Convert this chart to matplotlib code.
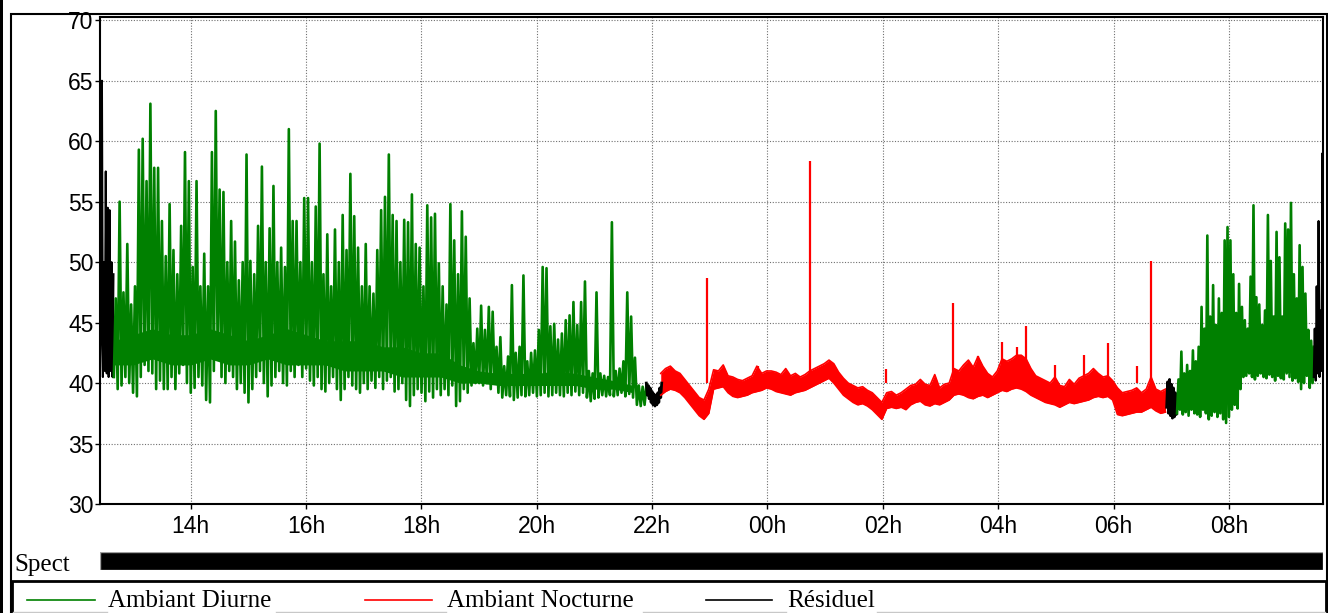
import numpy as np
import matplotlib.pyplot as plt
from matplotlib.patches import Rectangle
from matplotlib.lines import Line2D

W, H = 1328, 613

# axe des temps en heures depuis minuit du 1er jour (24 = 00h le lendemain)
T_MIN, T_MAX = 12.43, 33.63
TICK_HOURS = [14, 16, 18, 20, 22, 24, 26, 28, 30, 32]
TICK_LABELS = ['14h', '16h', '18h', '20h', '22h', '00h', '02h', '04h', '06h', '08h']
Y_TICKS = [30, 35, 40, 45, 50, 55, 60, 65, 70]

GREEN = '#008000'
RED = '#ff0000'

# Résiduel, pas de 1 min
RES1_START = 12.43
RES1 = [41.0, 44.0, 65.0, 40.5, 50.0, 41.0, 57.5, 40.8, 54.5, 40.5, 54.3, 41.0,
        50.0, 40.5, 49.0]
RES2_START = 21.9
RES2 = [40.0, 39.0, 39.8, 38.7, 39.6, 38.4, 39.3, 38.2, 39.1, 38.1, 39.0, 38.2,
        39.2, 38.4, 39.6, 38.8, 40.0]
RES3_START = 30.92
RES3 = [38.0, 40.1, 37.5, 40.3, 37.3, 39.9, 37.1, 39.6, 37.2, 39.2, 37.4, 39.0]
RES4_START = 33.47
RES4 = [40.5, 44.5, 40.2, 48.0, 40.8, 53.4, 40.5, 46.0, 41.0, 59.0, 40.3]

# Ambiant diurne (après-midi), pas de 4 min : min et max de chaque pas
DAY1_START = 12.67
DAY1_STEP = 4
DAY1_HI = [47.0, 55.0, 47.5, 51.5, 46.5, 48.0, 59.3, 60.2, 56.7, 63.1,
           57.8, 57.8, 53.4, 50.5, 54.8, 51.0, 49.0, 53.0, 59.1, 56.7,
           49.6, 56.7, 48.0, 50.7, 48.0, 59.1, 62.5, 56.0, 55.8, 50.0,
           53.4, 51.7, 48.5, 50.0, 58.9, 50.1, 49.0, 53.0, 57.9, 50.0,
           52.8, 56.3, 50.0, 51.2, 49.6, 61.0, 53.4, 53.4, 50.0, 55.3,
           55.3, 50.0, 54.6, 59.8, 49.0, 52.3, 48.0, 52.7, 50.0, 53.9,
           51.0, 57.3, 53.8, 51.2, 48.0, 51.5, 48.0, 47.4, 51.0, 54.3,
           55.4, 58.9, 53.9, 53.4, 50.0, 53.5,
           53.3, 55.6, 51.5, 51.2, 48.0, 54.7, 53.7, 54.0, 49.9, 48.0,
           46.5, 54.8, 51.8, 49.0, 54.2, 52.1, 47.0, 43.3, 44.5, 46.4,
           44.4, 46.3, 45.9, 43.0, 43.8, 41.4, 42.2, 48.1, 42.5, 43.0,
           48.9, 41.8, 42.5, 42.7, 44.4, 49.6, 49.5, 44.7, 44.9, 43.6,
           44.1, 45.2, 45.6, 46.7, 44.8, 46.7, 48.4, 41.0, 40.8, 47.5,
           40.8, 40.6, 40.5, 53.3, 41.0, 41.2, 41.8, 47.5, 45.5, 42.1,
           39.8, 39.7, 39.9]
DAY1_LO = [40.5, 39.5, 39.8, 40.5, 40.0, 39.2, 38.9, 40.5, 41.5, 41.0,
           40.8, 39.5, 40.2, 39.5, 39.5, 40.5, 39.5, 40.8, 41.5, 40.0,
           39.2, 39.6, 40.5, 39.8, 38.6, 38.4, 41.0, 42.0, 40.5, 40.0,
           41.0, 40.5, 39.5, 40.0, 39.2, 38.4, 39.5, 40.5, 41.0, 40.0,
           38.9, 39.8, 40.5, 41.0, 40.0, 39.8, 41.0, 40.5, 41.5, 40.5,
           41.2, 40.2, 39.8, 40.5, 39.5, 39.3, 40.0, 40.5, 39.5, 38.6,
           39.5, 40.5, 39.8, 39.5, 39.2, 40.0, 39.5, 40.2, 39.6, 40.5,
           39.5, 40.2, 40.5, 39.3, 39.5, 40.0,
           38.6, 38.1, 39.0, 39.5, 39.2, 38.5, 39.3, 38.8, 39.5, 39.0,
           39.5, 39.0, 39.8, 38.1, 38.5, 39.5, 39.2, 39.8, 40.0, 40.0,
           39.8, 40.0, 39.5, 40.0, 39.2, 38.8, 39.0, 38.9, 38.6, 38.8,
           39.0, 38.9, 39.0, 39.2, 38.9, 39.0, 39.2, 38.9, 39.0, 39.2,
           39.0, 38.9, 39.2, 39.0, 39.3, 39.0, 39.2, 38.8, 38.5, 38.7,
           38.8, 39.0, 38.9, 39.0, 38.9, 39.0, 39.2, 38.9, 39.1, 38.8,
           38.2, 38.1, 38.2]
# partie dense du signal diurne, pas de 20 min
DAY1_CORE_STEP = 20
DAY1_CORE_HI = [43.5, 44.0, 44.5, 44.0, 44.0, 44.5, 44.0, 43.5, 44.0, 44.5,
                44.0, 43.5, 43.5, 43.5, 43.0, 43.0, 42.5, 42.5, 41.5, 41.0,
                40.8, 40.8, 40.8, 41.0, 40.8, 40.5, 40.2, 39.8]
DAY1_CORE_LO = [41.5, 41.5, 42.0, 41.5, 41.5, 42.0, 41.5, 41.5, 42.0, 41.5,
                41.5, 41.5, 41.0, 41.0, 41.0, 40.5, 40.5, 40.5, 40.0, 40.0,
                39.8, 39.8, 39.8, 39.8, 39.8, 39.5, 39.5, 39.2]

# Ambiant nocturne, pas de 5 min
NIGHT_START = 22.15
NIGHT_STEP = 5
NIGHT_HI = [40.8, 41.2, 41.4, 41.0, 40.8, 40.3, 39.8, 39.3, 38.8, 38.6,
            39.5, 41.1, 41.0, 41.5, 40.6, 40.5, 40.3, 40.2, 40.4, 40.6,
            41.4, 40.8, 41.0, 41.0, 40.9, 40.7, 41.2, 40.6, 40.8, 40.5,
            40.7, 41.0, 41.2, 41.4, 41.6, 41.9, 41.6, 40.9, 40.4, 40.0,
            39.8, 39.6, 39.7, 39.4, 39.2, 38.8, 38.4, 39.2, 39.3, 39.0,
            39.2, 39.5, 39.8, 39.9, 40.3, 39.9, 39.8, 40.7, 39.6, 39.9,
            40.0, 41.2, 41.0, 41.5, 41.9, 41.3, 42.2, 41.4, 40.8, 40.5,
            41.0, 42.0, 41.8, 42.0, 42.3, 42.3, 42.0, 41.2, 40.6, 40.4,
            40.2, 40.0, 40.5, 39.8, 39.7, 40.3, 39.9, 40.4, 40.6, 40.8,
            41.2, 40.8, 40.5, 40.6, 40.2, 39.6, 39.2, 39.3, 39.4, 39.6,
            39.2, 39.5, 40.5, 39.5, 39.3, 39.5]
NIGHT_LO = [39.0, 39.3, 39.5, 39.4, 39.2, 38.8, 38.3, 37.8, 37.3, 37.0,
            37.5, 39.5, 39.6, 39.7, 39.2, 38.9, 38.8, 38.9, 39.0, 39.2,
            39.3, 39.4, 39.6, 39.5, 39.3, 39.2, 39.1, 39.0, 39.2, 39.3,
            39.4, 39.6, 39.8, 40.0, 40.2, 40.4, 40.0, 39.5, 39.0, 38.7,
            38.4, 38.2, 38.3, 38.1, 37.8, 37.4, 37.0, 37.9, 38.0, 37.9,
            38.0, 37.8, 38.2, 38.4, 38.5, 38.2, 38.1, 38.3, 38.2, 38.4,
            38.6, 39.0, 39.1, 39.0, 38.8, 38.7, 38.9, 39.0, 38.8, 39.0,
            39.2, 39.4, 39.3, 39.5, 39.6, 39.5, 39.3, 39.0, 38.8, 38.6,
            38.4, 38.3, 38.2, 38.0, 38.2, 38.4, 38.3, 38.4, 38.5, 38.6,
            38.8, 38.9, 38.8, 38.9, 38.6, 37.4, 37.3, 37.4, 37.5, 37.6,
            37.6, 37.8, 38.0, 37.7, 37.5, 37.6]
NIGHT_SPIKE_T = [22.95, 23.83, 24.74, 26.05, 27.21, 27.65, 28.07, 28.32, 28.48,
                 28.98, 29.48, 29.9, 30.4, 30.64]
NIGHT_SPIKE_DB = [48.7, 41.4, 58.4, 41.2, 46.6, 42.2, 43.4, 43.0, 44.7,
                  41.5, 42.3, 43.3, 41.4, 50.1]

# Ambiant diurne (matin), pas de 3 min
DAY2_START = 31.1
DAY2_STEP = 3
DAY2_HI = [40.3, 42.6, 40.8, 41.5, 41.0, 42.7, 41.8, 43.0, 46.3, 44.5,
           52.2, 45.5, 48.1, 44.8, 47.0, 45.8, 51.8, 52.9, 51.8, 49.0,
           45.8, 48.2, 46.3, 45.2, 44.5, 48.8, 54.7, 47.1, 46.5, 44.8,
           46.0, 53.9, 50.1, 45.5, 52.5, 50.4, 45.5, 53.2, 52.7, 54.9,
           49.0, 47.0, 51.4, 49.6, 47.4, 44.4, 43.5, 43.0]
DAY2_LO = [37.5, 37.8, 37.4, 37.6, 37.3, 37.8, 37.5, 37.4, 37.2, 37.8,
           37.5, 37.0, 37.3, 37.6, 37.2, 37.5, 37.0, 36.7, 37.2, 37.8,
           38.2, 37.9, 39.5, 40.5, 40.6, 40.8, 40.5, 40.3, 40.6, 40.8,
           40.5, 40.4, 40.7, 40.5, 40.2, 40.6, 40.4, 40.3, 40.8, 40.5,
           40.2, 40.4, 40.1, 39.5, 40.0, 40.6, 39.6, 40.0]
DAY2_CORE_STEP = 15
DAY2_CORE_HI = [39.0, 39.5, 40.5, 41.0, 42.0, 42.5, 42.0, 42.5, 42.0, 41.5]
DAY2_CORE_LO = [38.0, 38.0, 38.0, 38.5, 40.5, 41.0, 41.0, 41.0, 40.8, 40.8]


def fx(x):
    return x / W


def fy(y):
    return 1 - y / H


def minute_series(start, values):
    t = start + np.arange(len(values)) / 60
    return t, np.array(values)


def times(start, step, values):
    return start + np.arange(len(values)) * step / 60


def zigzag(start, step, lo, hi):
    # alterne min puis max dans chaque pas de temps
    t = times(start, step, lo)
    x = np.column_stack([t, t + step / 120]).ravel()
    y = np.column_stack([lo, hi]).ravel()
    return x, y


fig = plt.figure(figsize=(W / 100, H / 100), dpi=100)

# cadres
fig.add_artist(Rectangle((0, 0), fx(3), 1, transform=fig.transFigure,
                         facecolor='black', edgecolor='none'))
fig.add_artist(Rectangle((fx(10.5), fy(616)), fx(1316), fy(14) - fy(616),
                         transform=fig.transFigure, fill=False, lw=1.5, edgecolor='black'))
fig.add_artist(Rectangle((fx(12), fy(616)), fx(1314), fy(581) - fy(616),
                         transform=fig.transFigure, fill=False, lw=2, edgecolor='black'))

ax = fig.add_axes([fx(100), fy(504), fx(1223), fy(17) - fy(504)])

x, y = minute_series(RES1_START, RES1)
ax.plot(x, y, color='black', lw=1.5)

t = times(DAY1_START, DAY1_CORE_STEP, DAY1_CORE_HI)
ax.fill_between(t, DAY1_CORE_LO, DAY1_CORE_HI, color=GREEN, lw=0)
x, y = zigzag(DAY1_START, DAY1_STEP, DAY1_LO, DAY1_HI)
ax.plot(x, y, color=GREEN, lw=1.9)

x, y = minute_series(RES2_START, RES2)
ax.plot(x, y, color='black', lw=2)

t_night = times(NIGHT_START, NIGHT_STEP, NIGHT_LO)
ax.fill_between(t_night, NIGHT_LO, NIGHT_HI, color=RED, lw=0)
ax.plot(t_night, NIGHT_HI, color=RED, lw=1.2)
ax.plot(t_night, NIGHT_LO, color=RED, lw=1.2)
ax.vlines(NIGHT_SPIKE_T, 40, NIGHT_SPIKE_DB, color=RED, lw=1.6)

x, y = minute_series(RES3_START, RES3)
ax.plot(x, y, color='black', lw=2)

t = times(DAY2_START, DAY2_CORE_STEP, DAY2_CORE_HI)
ax.fill_between(t, DAY2_CORE_LO, DAY2_CORE_HI, color=GREEN, lw=0)
x, y = zigzag(DAY2_START, DAY2_STEP, DAY2_LO, DAY2_HI)
ax.plot(x, y, color=GREEN, lw=1.9)

x, y = minute_series(RES4_START, RES4)
ax.plot(x, y, color='black', lw=1.5)

ax.set_xlim(T_MIN, T_MAX)
ax.set_ylim(30, 70.27)
ax.set_xticks(TICK_HOURS)
ax.set_xticklabels(TICK_LABELS)
ax.set_yticks(Y_TICKS)
ax.set_axisbelow(True)
ax.grid(True, color='#707070', linestyle=(0, (1, 1.5)), lw=0.8)
for s in ax.spines.values():
    s.set_linewidth(1.5)
ax.tick_params(direction='out', length=3.6, width=1, labelsize=16.5)
ax.tick_params(axis='x', pad=4)
ax.tick_params(axis='y', pad=1)
for lab in ax.get_xticklabels() + ax.get_yticklabels():
    lab.set_family('Liberation Sans')

# bande Spect
ax_s = fig.add_axes([fx(100), fy(570), fx(1223), fy(552) - fy(570)])
ax_s.barh(0, T_MAX - T_MIN, left=T_MIN, height=1, color='black', edgecolor='#a0a0a0', lw=1)
ax_s.set_xlim(T_MIN, T_MAX)
ax_s.set_ylim(-0.5, 0.5)
ax_s.axis('off')
fig.text(fx(14), fy(571), 'Spect', family='Liberation Serif', size=18, va='baseline')

# légende
entries = [(27, 95, 108, GREEN, 'Ambiant Diurne'),
           (365, 432, 447, RED, 'Ambiant Nocturne'),
           (706, 772, 787, 'black', 'Résiduel')]
for x0, x1, xt, c, label in entries:
    fig.add_artist(Line2D([fx(x0), fx(x1)], [fy(600), fy(600)], color=c, lw=1.2,
                          transform=fig.transFigure))
    fig.text(fx(xt), fy(607), label, family='Liberation Serif', size=18, va='baseline')
for x0, x1 in [(13, 107), (276, 446), (643, 786), (877, 1325)]:
    fig.add_artist(Line2D([fx(x0), fx(x1)], [fy(611.5), fy(611.5)], color='#c8c8c8', lw=1,
                          transform=fig.transFigure))

fig.savefig('out.png', dpi=100)
